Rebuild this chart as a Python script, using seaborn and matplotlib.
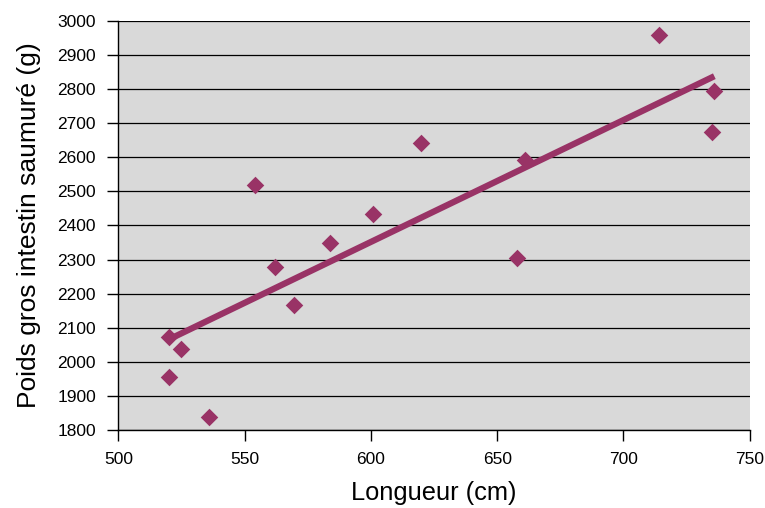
import numpy as np
import pandas as pd
import seaborn as sns
import matplotlib.pyplot as plt

# --------------------------
# Data
# --------------------------
longueur = [554, 562, 569.5, 584, 601, 620, 658, 661, 714, 736, 735, 520, 525, 520, 536]
poids = [2520, 2278, 2167, 2347, 2433, 2643, 2305, 2592, 2958, 2795, 2673, 2072, 2038, 1955, 1839]

df = pd.DataFrame({"Longueur": longueur, "Poids": poids})

# --------------------------
# Plot
# --------------------------
sns.set_style("white")
plt.rcParams["font.family"] = ["Liberation Sans", "DejaVu Sans"]
plt.rcParams["text.color"] = "black"
plt.rcParams["axes.labelcolor"] = "black"
plt.rcParams["xtick.color"] = "black"
plt.rcParams["ytick.color"] = "black"
plt.rcParams["xtick.labelsize"] = 12.5
plt.rcParams["ytick.labelsize"] = 12.5

fig = plt.figure(figsize=(7.65, 5.08), dpi=100)
ax = fig.add_axes([0.1547, 0.1535, 0.8253, 0.8055])
ax.set_facecolor("#D9D9D9")

color = "#993366"
sns.regplot(x="Longueur", y="Poids", data=df, ax=ax, ci=None,
            marker="D", color=color,
            scatter_kws={"s": 80, "linewidths": 0, "alpha": 1, "zorder": 3},
            line_kws={"lw": 4.5, "zorder": 4, "solid_capstyle": "butt"})

ax.set_xlim(500, 750)
ax.set_ylim(1800, 3000)
ax.set_xticks(np.arange(500, 751, 50))
ax.set_yticks(np.arange(1800, 3001, 100))
ax.grid(axis="y", color="black", lw=0.9, zorder=1)
ax.set_axisbelow(True)

for s in ["top", "right"]:
    ax.spines[s].set_visible(False)
for s in ["left", "bottom"]:
    ax.spines[s].set_color("black")
    ax.spines[s].set_linewidth(1.0)

ax.tick_params(axis="both", direction="out", length=8, width=1, color="black",
               labelsize=12.5, pad=8, bottom=True, left=True)
for lab in ax.get_xticklabels() + ax.get_yticklabels():
    lab.set_fontsize(12.5)
ax.set_xlabel("Longueur (cm)", fontsize=18.3, labelpad=10)
ax.set_ylabel("Poids gros intestin saumuré (g)", fontsize=19, labelpad=12)

plt.savefig("out.png", dpi=100)
